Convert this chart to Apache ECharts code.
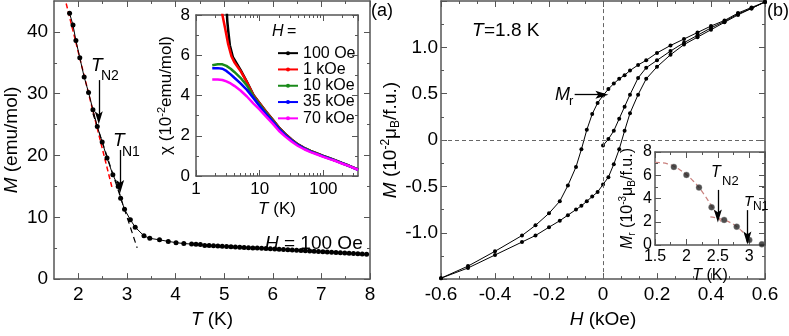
<!DOCTYPE html>
<html><head><meta charset="utf-8">
<script src="https://cdn.jsdelivr.net/npm/echarts@6/dist/echarts.min.js"></script>
<style>html,body{margin:0;padding:0;background:#fff}#c{width:789px;height:336px}</style>
</head><body><div id="c"></div>
<script>
// ---------- Panel (a) main: M vs T at H = 100 Oe ----------
const mainT = [1.82,1.89,1.95,2.03,2.12,2.21,2.30,2.39,2.49,2.59,2.71,2.82,2.87,2.95,3.07,3.17,3.35,3.47,3.67,3.85,4.01,4.17,
  4.33,4.42,4.51,4.60,4.69,4.78,4.87,4.96,5.05,5.14,5.23,5.32,5.41,5.50,5.59,5.68,5.77,5.86,5.95,6.04,6.13,6.22,6.31,6.40,
  6.49,6.58,6.67,6.76,6.85,6.94,7.03,7.12,7.21,7.30,7.39,7.48,7.57,7.66,7.75,7.84,7.93];
const mainM = [43.0,41.1,38.6,35.8,32.7,30.2,27.4,24.7,22.2,19.6,16.9,15.0,13.1,11.3,9.6,8.4,7.0,6.6,6.35,6.1,5.9,5.75,
  5.67,5.62,5.58,5.45,5.42,5.38,5.35,5.31,5.28,5.24,5.21,5.17,5.13,5.09,5.05,5.02,4.98,4.94,4.90,4.86,4.82,4.78,4.74,4.70,
  4.66,4.62,4.58,4.54,4.50,4.46,4.42,4.38,4.34,4.30,4.26,4.22,4.18,4.14,4.10,4.06,4.02];
const fitRedT = [1.75, 2.69];
const fitRedM = [44.6, 14.9];
const fitBlackT = [2.3, 3.21];
const fitBlackM = [26.8, 5.05];

// ---------- Panel (a) inset: chi vs T (log) ----------
const legendNames = ['100 Oe', '1 kOe', '10 kOe', '35 kOe', '70 kOe'];
const chiT100 = [1.8,2.0,2.5,2.8,3.0,3.1,3.2,3.4,3.8,5,6.3,8,10,12.5,16,20,25,32,40,50,63,80,100,126,160,200,250,320,350];
const chi100  = [43,35,20,12,8.5,7.7,7.25,6.5,5.9,5.27,4.68,4.02,3.62,3.22,2.8,2.42,2.1,1.8,1.57,1.4,1.25,1.12,1.0,0.88,0.76,0.64,0.52,0.38,0.33];
const chiT1k  = [1.8,2.0,2.4,2.6,2.86,3.2,3.6,4.0,5,6.3,8,10,12.5,16,20,25,32,40,50,63,80,100,126,160,200,250,320,350];
const chi1k   = [13,12,9.5,8.0,7.35,6.55,5.95,5.65,5.22,4.66,4.0,3.6,3.2,2.79,2.41,2.09,1.79,1.56,1.39,1.24,1.11,0.99,0.87,0.75,0.63,0.51,0.37,0.32];
const chiT    = [1.8,2.2,2.6,3,3.5,4,5,6.3,8,10,12.5,16,20,25,32,40,50,63,80,100,126,160,200,250,320,350];
const chi10k  = [5.5,5.55,5.55,5.47,5.33,5.17,4.88,4.5,3.95,3.55,3.16,2.75,2.38,2.07,1.77,1.55,1.38,1.23,1.1,0.98,0.87,0.75,0.63,0.51,0.37,0.32];
const chi35k  = [5.35,5.36,5.33,5.22,5.05,4.88,4.6,4.28,3.87,3.47,3.09,2.7,2.34,2.04,1.75,1.53,1.36,1.21,1.09,0.97,0.86,0.74,0.62,0.5,0.36,0.31];
const chi70k  = [4.8,4.8,4.77,4.7,4.6,4.48,4.25,3.95,3.6,3.3,2.96,2.6,2.25,1.97,1.7,1.49,1.33,1.19,1.07,0.95,0.84,0.73,0.61,0.5,0.36,0.31];

// ---------- Panel (b) main: M vs H hysteresis at 1.8 K ----------
const downH = [0.6,0.55,0.5,0.45,0.4,0.35,0.3,0.25,0.2,0.16,0.13,0.1,0.08,0.06,0.04,0.02,0,-0.02,-0.04,-0.06,-0.08,-0.1,-0.13,-0.16,-0.2,-0.25,-0.3,-0.4,-0.5,-0.6];
const downM = [1.49,1.43,1.37,1.29,1.23,1.16,1.09,1.02,0.94,0.86,0.81,0.75,0.70,0.66,0.61,0.55,0.48,0.40,0.28,0.11,-0.10,-0.29,-0.49,-0.66,-0.79,-0.92,-1.03,-1.20,-1.36,-1.49];
const upH = [-0.6,-0.5,-0.4,-0.3,-0.25,-0.2,-0.16,-0.13,-0.1,-0.08,-0.06,-0.04,-0.02,0,0.02,0.04,0.06,0.08,0.1,0.13,0.16,0.2,0.25,0.3,0.35,0.4,0.45,0.5,0.55,0.6];
const upM = [-1.49,-1.38,-1.24,-1.10,-1.03,-0.94,-0.87,-0.81,-0.75,-0.71,-0.66,-0.61,-0.56,-0.48,-0.40,-0.26,-0.10,0.10,0.29,0.49,0.66,0.79,0.92,1.03,1.11,1.19,1.27,1.35,1.42,1.49];
const virginH = [0,0.02,0.04,0.06,0.08,0.1,0.13,0.16,0.2,0.25,0.3,0.35,0.4,0.45,0.5,0.55,0.6];
const virginM = [-0.06,0.01,0.10,0.23,0.36,0.49,0.67,0.78,0.86,0.96,1.05,1.13,1.21,1.28,1.36,1.42,1.49];

// ---------- Panel (b) inset: Mr vs T ----------
const mrT = [1.8,2.0,2.2,2.4,2.6,2.8,3.0,3.2];
const mrV = [6.72,6.03,4.94,3.25,2.16,1.58,0.43,0.06];
const fit1T = [1.5,1.6,1.7,1.8,1.9,2.0,2.1,2.2,2.3,2.4,2.5,2.55];
const fit1M = [7.12,7.08,6.98,6.78,6.45,6.05,5.55,4.95,4.2,3.35,2.45,2.0];
const fit2T = [2.38,2.5,2.6,2.7,2.8,2.9,2.95,3.0];
const fit2M = [2.42,2.3,2.15,1.92,1.58,1.1,0.78,0.3];

// ---------- tick values ----------
const aXMajor = [2,3,4,5,6,7,8];
const aXMinor = [2.5,3.5,4.5,5.5,6.5,7.5];
const aYMajor = [0,10,20,30,40];
const aYMinor = [5,15,25,35];
const logMinor = [2,3,4,5,6,7,8,9,20,30,40,50,60,70,80,90,200,300];

const zip = (a, b) => a.map((v, i) => [v, b[i]]);
const FONT = '"Liberation Sans", Arial, Helvetica, sans-serif';
const AXC = '#555';

function richFor(fs) {
  const s = Math.round(fs * 0.65);
  return {
    i: {fontStyle: 'italic', fontSize: fs, fontFamily: FONT, color: '#000'},
    sup: {fontSize: s, verticalAlign: 'top', lineHeight: s + 1, fontFamily: FONT, color: '#000'},
    sub: {fontSize: s, verticalAlign: 'bottom', lineHeight: s + 1, fontFamily: FONT, color: '#000'}
  };
}
function mk(o) {
  const a = {
    type: o.type || 'value', gridIndex: o.grid, position: o.pos, min: o.min, max: o.max,
    silent: true,
    axisLine: {show: o.line !== false, onZero: false, lineStyle: {color: AXC, width: 1.5}},
    axisTick: {show: true, inside: true, length: o.len || 6, lineStyle: {color: AXC, width: 1}},
    minorTick: {show: !!o.minor, splitNumber: o.minor || 2, length: 3, lineStyle: {color: AXC, width: 1}},
    splitLine: {show: false}, minorSplitLine: {show: false},
    axisLabel: {show: !!o.labels, color: '#000', fontFamily: FONT, fontSize: o.fs || 19, margin: o.margin == null ? 6 : o.margin}
  };
  if (o.interval != null) a.interval = o.interval;
  if (o.fmt) a.axisLabel.formatter = o.fmt;
  if (o.showMax === false) a.axisLabel.showMaxLabel = false;
  if (o.ticks) a.axisTick.customValues = o.ticks;
  if (o.labelVals) a.axisLabel.customValues = o.labelVals;
  if (o.name) {
    const fs = o.nfs || 19;
    a.name = o.name; a.nameLocation = 'middle'; a.nameGap = o.gap;
    a.nameTextStyle = {color: '#000', fontFamily: FONT, fontSize: fs, lineHeight: fs + 3, rich: richFor(fs)};
  }
  return a;
}
const fmtB = v => Math.abs(v) < 1e-9 ? '0' : v.toFixed(1);
const fmtBy = v => Math.abs(v) > 1.3 ? '' : (Math.abs(v) < 1e-9 ? '0' : v.toFixed(1));
const fmtLog = v => { const r = Math.round(v); return (Math.abs(v - r) < 1e-6 && (r === 1 || r === 10 || r === 100)) ? String(r) : ''; };
const fmtIb = v => Math.abs(v - 3.25) < 1e-6 ? '' : String(+v.toFixed(2));

const xAxis = [
  mk({grid:0,pos:'bottom',min:1.5,max:8,interval:0.5,ticks:aXMajor,labelVals:aXMajor,labels:true,margin:6,name:'{i|T} (K)',gap:23}),
  mk({grid:0,pos:'top',min:1.5,max:8,interval:0.5,ticks:aXMajor}),
  mk({grid:0,pos:'bottom',min:1.5,max:8,interval:0.5,ticks:aXMinor,len:3,line:false}),
  mk({grid:0,pos:'top',min:1.5,max:8,interval:0.5,ticks:aXMinor,len:3,line:false}),
  mk({grid:1,pos:'bottom',type:'log',min:1,max:350,labels:true,fs:17,fmt:fmtLog,showMax:false,margin:5,name:'{i|T} (K)',nfs:17,gap:22}),
  mk({grid:1,pos:'top',type:'log',min:1,max:350}),
  mk({grid:1,pos:'bottom',type:'log',min:1,max:350,ticks:logMinor,len:3,line:false}),
  mk({grid:1,pos:'top',type:'log',min:1,max:350,ticks:logMinor,len:3,line:false}),
  mk({grid:2,pos:'bottom',min:-0.6,max:0.6,interval:0.2,minor:3,labels:true,fmt:fmtB,margin:6,name:'{i|H} (kOe)',gap:19}),
  mk({grid:2,pos:'top',min:-0.6,max:0.6,interval:0.2,minor:3}),
  mk({grid:3,pos:'bottom',min:1.5,max:3.25,interval:0.5,minor:2,labels:true,fs:16,fmt:fmtIb,showMax:false,margin:4,name:'{i|T} (K)',nfs:16,gap:20}),
  mk({grid:3,pos:'top',min:1.5,max:3.25,interval:0.5,minor:2})
];
const yAxis = [
  mk({grid:0,pos:'left',min:0,max:45,interval:5,ticks:aYMajor,labelVals:aYMajor,labels:true,margin:6,name:'{i|M} (emu/mol)',gap:28}),
  mk({grid:0,pos:'right',min:0,max:45,interval:5,ticks:aYMajor}),
  mk({grid:0,pos:'left',min:0,max:45,interval:5,ticks:aYMinor,len:3,line:false}),
  mk({grid:0,pos:'right',min:0,max:45,interval:5,ticks:aYMinor,len:3,line:false}),
  mk({grid:1,pos:'left',min:0,max:8,interval:2,minor:2,labels:true,fs:17,margin:6,name:'χ (10{sup|-2}emu/mol)',nfs:17,gap:17}),
  mk({grid:1,pos:'right',min:0,max:8,interval:2,minor:2}),
  mk({grid:2,pos:'left',min:-1.5,max:1.5,interval:0.5,minor:2,labels:true,fmt:fmtBy,margin:3,name:'{i|M} (10{sup|-2}μ{sub|B}/f.u.)',gap:33}),
  mk({grid:2,pos:'right',min:-1.5,max:1.5,interval:0.5,minor:2}),
  mk({grid:3,pos:'left',min:0,max:8,interval:2,minor:2,labels:true,fs:16,margin:3,name:'{i|M}{sub|r} (10{sup|-3}μ{sub|B}/f.u.)',nfs:16,gap:18}),
  mk({grid:3,pos:'right',min:0,max:8,interval:2,minor:2})
];

const HEAD = 'path://M5,0 L10,16 L5,12.5 L0,16 Z';
const arrow = (x1, y1, x2, y2) => [{coord: [x1, y1], symbol: 'none'}, {coord: [x2, y2], symbol: HEAD, symbolSize: [8, 13]}];
const arrowML = (items) => ({
  silent: true, animation: false, symbol: ['none', HEAD], symbolSize: [8, 13],
  lineStyle: {color: '#000', width: 1.3, type: 'solid'}, itemStyle: {color: '#000'},
  label: {show: false}, emphasis: {disabled: true},
  data: items
});

const insetColors = ['#000000', '#ff0000', '#1a8a1a', '#0000ff', '#ff00ff'];
const insetData = [zip(chiT100, chi100), zip(chiT1k, chi1k), zip(chiT, chi10k), zip(chiT, chi35k), zip(chiT, chi70k)];

const series = [
  {type:'line', xAxisIndex:0, yAxisIndex:0, data: zip(fitRedT, fitRedM), showSymbol:false, z:2,
   lineStyle:{color:'#ff0000', width:1.5, type:[5,3]}},
  {type:'line', xAxisIndex:0, yAxisIndex:0, data: zip(fitBlackT, fitBlackM), showSymbol:false, z:2,
   lineStyle:{color:'#000', width:1.2, type:[6,4]}},
  {type:'line', xAxisIndex:0, yAxisIndex:0, data: zip(mainT, mainM), symbol:'circle', symbolSize:5, z:3,
   lineStyle:{color:'#000', width:1}, itemStyle:{color:'#000'},
   markLine: arrowML([arrow(2.42, 32.2, 2.42, 26.1), arrow(2.86, 20.9, 2.86, 15.0)])}
];
legendNames.forEach((n, i) => {
  series.push({type:'line', name:n, xAxisIndex:4, yAxisIndex:4, data: insetData[i], symbol:'circle', symbolSize:3,
    showSymbol:false, lineStyle:{color:insetColors[i], width:2.5}, itemStyle:{color:insetColors[i]}, z:3});
});
series.push(
  {type:'line', xAxisIndex:8, yAxisIndex:6, data: zip(downH, downM), symbol:'circle', symbolSize:4,
   lineStyle:{color:'#000', width:1}, itemStyle:{color:'#000'}, z:3,
   markLine:{silent:true, animation:false, symbol:['none','none'], label:{show:false},
     lineStyle:{color:'#666', width:1, type:[4,3]}, data:[{yAxis:0},{xAxis:0}]}},
  {type:'line', xAxisIndex:8, yAxisIndex:6, data: zip(upH, upM), symbol:'circle', symbolSize:4,
   lineStyle:{color:'#000', width:1}, itemStyle:{color:'#000'}, z:3},
  {type:'line', xAxisIndex:8, yAxisIndex:6, data: zip(virginH, virginM), symbol:'circle', symbolSize:4,
   lineStyle:{color:'#000', width:1}, itemStyle:{color:'#000'}, z:3,
   markLine: arrowML([arrow(-0.105, 0.49, -0.004, 0.49)])},
  {type:'line', xAxisIndex:10, yAxisIndex:8, data: zip(fit1T, fit1M), showSymbol:false, smooth:true, z:2,
   lineStyle:{color:'#c9807d', width:1.2, type:[5,3]}},
  {type:'line', xAxisIndex:10, yAxisIndex:8, data: zip(fit2T, fit2M), showSymbol:false, smooth:true, z:2,
   lineStyle:{color:'#c9807d', width:1.2, type:[5,3]},
   markLine: arrowML([arrow(2.5, 4.74, 2.5, 2.5), arrow(2.97, 3.0, 2.97, 0.6)])},
  {type:'scatter', xAxisIndex:10, yAxisIndex:8, data: zip(mrT, mrV), symbol:'circle', symbolSize:6, z:4,
   itemStyle:{color:'#222', borderColor:'#888', borderWidth:0.5}}
);

function txt(x, y, s, fs, italic) {
  return {type:'text', left:x, top:y, z:100, silent:true,
    style:{text:s, fontSize:fs, fontFamily:FONT, fontStyle: italic ? 'italic' : 'normal', fill:'#000'}};
}
const graphic = [
  txt(371, 2, '(a)', 18), txt(767, 2, '(b)', 18),
  txt(91, 56, 'T', 19, true), txt(101, 69, 'N2', 14),
  txt(113, 131, 'T', 19, true), txt(122, 145, 'N1', 14),
  txt(265, 234, 'H', 19, true), txt(284, 234, '= 100 Oe', 19),
  txt(272, 24, 'H', 16, true), txt(287, 24, '=', 16),
  txt(472, 21, 'T', 19, true), txt(484, 21, '=1.8 K', 19),
  txt(555, 86, 'M', 18, true), txt(569, 95, 'r', 13),
  txt(711, 165, 'T', 16, true), txt(722, 175, 'N2', 13),
  txt(744, 194, 'T', 15, true), txt(753, 201, 'N1', 12)
];

const chart = echarts.init(document.getElementById('c'), null, {renderer:'canvas'});
chart.setOption({
  animation: false,
  backgroundColor: '#fff',
  textStyle: {fontFamily: FONT},
  grid: [
    {left:49, top:1, width:321, height:288},
    {left:196, top:15, width:162, height:161},
    {left:441, top:1, width:324, height:288},
    {left:655, top:152, width:110, height:93, show:true, backgroundColor:'#fff', borderWidth:0}
  ],
  legend: {data: legendNames, left:272, top:40, orient:'vertical', itemWidth:20, itemHeight:5, itemGap:0,
    selectedMode:false, textStyle:{fontSize:16, fontFamily:FONT, color:'#000', lineHeight:16.3}},
  xAxis, yAxis, series, graphic
});
</script></body></html>
